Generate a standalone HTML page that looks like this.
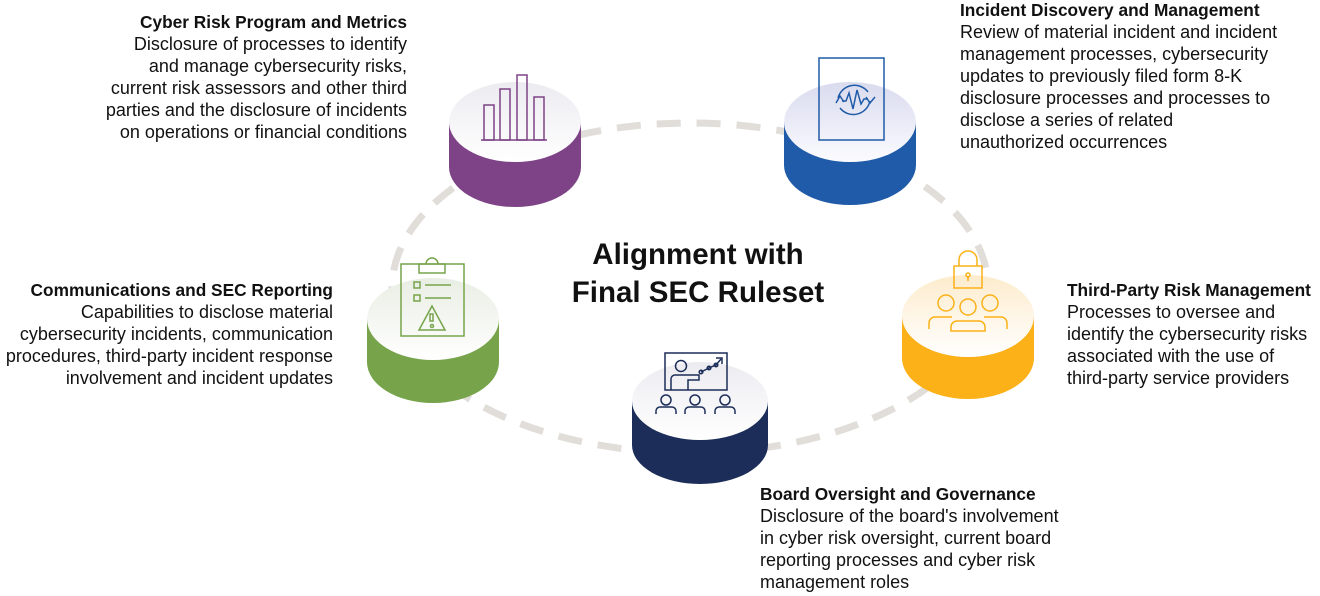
<!DOCTYPE html>
<html><head><meta charset="utf-8"><style>
html,body{margin:0;padding:0;background:#fff;}
body{width:1320px;height:596px;position:relative;overflow:hidden;font-family:"Liberation Sans",sans-serif;color:#111;}
.t{position:absolute;font-size:18px;line-height:22px;white-space:nowrap;}
.t b{font-weight:bold;font-size:17.3px;}
.r{text-align:right;}
.c{position:absolute;left:548px;width:300px;text-align:center;font-weight:bold;font-size:29.5px;line-height:38px;top:236px;}
</style></head><body>
<svg width="1320" height="596" style="position:absolute;left:0;top:0">
<defs>
<linearGradient id="top" x1="0" y1="0" x2="0" y2="1"><stop offset="0" stop-color="#ecebf0"/><stop offset="1" stop-color="#ffffff"/></linearGradient>
<linearGradient id="topb" x1="0" y1="0" x2="0" y2="1"><stop offset="0" stop-color="#d9dbee"/><stop offset="1" stop-color="#fbfbff"/></linearGradient>
<linearGradient id="topg" x1="0" y1="0" x2="0" y2="1"><stop offset="0" stop-color="#e9eee4"/><stop offset="1" stop-color="#ffffff"/></linearGradient>
<linearGradient id="topy" x1="0" y1="0" x2="0" y2="1"><stop offset="0" stop-color="#fdeccd"/><stop offset="1" stop-color="#ffffff"/></linearGradient>
</defs>
<ellipse cx="690" cy="288" rx="298" ry="165" fill="none" stroke="#e1ded9" stroke-width="7" stroke-dasharray="24 16"/>
<g><path d="M449 122 L449 167 A66 40 0 0 0 581 167 L581 122 Z" fill="#7d4386"/><ellipse cx="515" cy="122" rx="66" ry="40" fill="url(#top)"/>
<g fill="none" stroke="#7d4386" stroke-width="1.5"><rect x="484" y="105" width="10" height="35"/><rect x="500" y="89" width="10" height="51"/><rect x="517" y="75" width="10" height="65"/><rect x="534" y="97" width="10" height="43"/><line x1="481" y1="140" x2="547" y2="140"/></g></g>
<g><path d="M784 122 L784 165 A66 40 0 0 0 916 165 L916 122 Z" fill="#1f5ba8"/><ellipse cx="850" cy="122" rx="66" ry="40" fill="url(#topb)"/>
<g fill="none" stroke="#1f5ba8" stroke-width="1.5"><rect x="819" y="58" width="65" height="82"/><path d="M838 98 A17 17 0 0 1 868 92"/><path d="M870 101 A17 17 0 0 1 840 108"/><path d="M836 103 L840 96 L844 102"/><path d="M866 97 L870 103 L875 97"/><path d="M842 101 L846 101 L849 93 L853 109 L857 90 L861 104 L864 99 L868 99"/></g></g>
<g><path d="M367 319 L367 362 A66 41 0 0 0 499 362 L499 319 Z" fill="#77a44b"/><ellipse cx="433" cy="319" rx="66" ry="41" fill="url(#topg)"/>
<g fill="none" stroke="#77a44b" stroke-width="1.5"><rect x="401" y="264" width="63" height="72"/><rect x="419" y="264" width="26" height="9"/><path d="M426 264 A6 6 0 0 1 438 264"/><rect x="414" y="282" width="6" height="6"/><rect x="414" y="295" width="6" height="6"/><line x1="425" y1="285" x2="451" y2="285"/><line x1="425" y1="298" x2="451" y2="298"/><path d="M432 306 L445 330 L419 330 Z"/><rect x="430" y="314" width="3" height="7"/><circle cx="432" cy="326" r="1.5"/></g></g>
<g><path d="M902 316 L902 358 A66 41 0 0 0 1034 358 L1034 316 Z" fill="#fbb117"/><ellipse cx="968" cy="316" rx="66" ry="41" fill="url(#topy)"/>
<g fill="none" stroke="#fbb117" stroke-width="1.5"><rect x="954" y="266" width="28" height="22"/><path d="M959 266 L959 260 A9 9 0 0 1 977 260 L977 266"/><circle cx="968" cy="275" r="2"/><line x1="968" y1="277" x2="968" y2="281"/><circle cx="946" cy="303" r="8"/><circle cx="990" cy="303" r="8"/><circle cx="968" cy="307" r="8"/><path d="M929 329 L929 323 A6 6 0 0 1 935 317 L952 317"/><path d="M1007 329 L1007 323 A6 6 0 0 0 1001 317 L984 317"/><path d="M951 331 L951 327 A6 6 0 0 1 957 321 L979 321 A6 6 0 0 1 985 327 L985 331 Z"/></g></g>
<g><path d="M632 401 L632 445 A68 39 0 0 0 768 445 L768 401 Z" fill="#1b2d58"/><ellipse cx="700" cy="401" rx="68" ry="39" fill="url(#top)"/>
<g fill="none" stroke="#1b2d58" stroke-width="1.5"><rect x="665" y="353" width="62" height="37"/><circle cx="681" cy="366" r="5.5"/><path d="M671 390 L671 379 A4 4 0 0 1 675 375 L699 375 L699 380 L688 380 L688 390"/><path d="M701 372 L711 367 L716 365 L721 359"/><circle cx="701" cy="372" r="1.8"/><circle cx="709" cy="368" r="1.8"/><circle cx="716" cy="365" r="1.8"/><path d="M716 358 L722 358 L722 364"/><circle cx="666" cy="400" r="5"/><circle cx="695" cy="400" r="5"/><circle cx="725" cy="400" r="5"/><path d="M656 414 L656 411 A4 4 0 0 1 660 407 L672 407 A4 4 0 0 1 676 411 L676 414"/><path d="M685 414 L685 411 A4 4 0 0 1 689 407 L701 407 A4 4 0 0 1 705 411 L705 414"/><path d="M715 414 L715 411 A4 4 0 0 1 719 407 L731 407 A4 4 0 0 1 735 411 L735 414"/></g></g>
</svg>
<div class="c">Alignment with<br>Final SEC Ruleset</div>
<div class="t r" style="right:913px;top:11px"><b>Cyber Risk Program and Metrics</b><br>Disclosure of processes to identify<br>and manage cybersecurity risks,<br>current risk assessors and other third<br>parties and the disclosure of incidents<br>on operations or financial conditions</div>
<div class="t" style="left:960px;top:-1px"><b>Incident Discovery and Management</b><br>Review of material incident and incident<br>management processes, cybersecurity<br>updates to previously filed form 8-K<br>disclosure processes and processes to<br>disclose a series of related<br>unauthorized occurrences</div>
<div class="t r" style="right:987px;top:279px"><b>Communications and SEC Reporting</b><br>Capabilities to disclose material<br>cybersecurity incidents, communication<br>procedures, third-party incident response<br>involvement and incident updates</div>
<div class="t" style="left:1067px;top:279px"><b>Third-Party Risk Management</b><br>Processes to oversee and<br>identify the cybersecurity risks<br>associated with the use of<br>third-party service providers</div>
<div class="t" style="left:760px;top:483px"><b>Board Oversight and Governance</b><br>Disclosure of the board's involvement<br>in cyber risk oversight, current board<br>reporting processes and cyber risk<br>management roles</div>
</body></html>
